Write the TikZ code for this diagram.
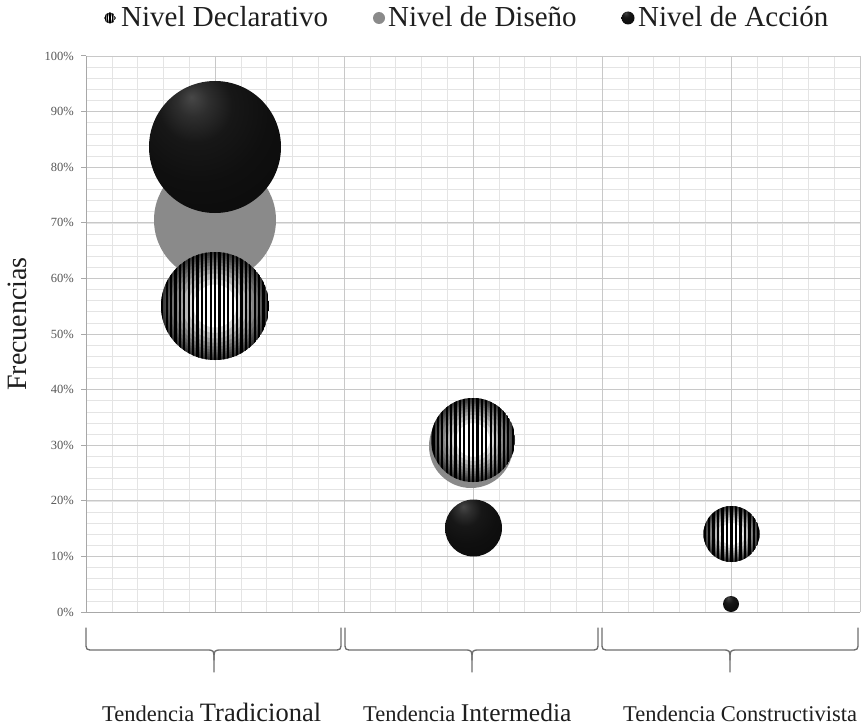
\documentclass[tikz,border=0pt]{standalone}
\usepackage{fontspec}
\setmainfont{Liberation Serif}
\usetikzlibrary{calc}
\definecolor{gridminor}{HTML}{E4E4E4}
\definecolor{gridmajor}{HTML}{C8C8C8}
\definecolor{axisgray}{HTML}{A8A8A8}
\definecolor{bracegray}{HTML}{6E6E6E}
\definecolor{designgray}{HTML}{8A8A8A}
\definecolor{labelgray}{HTML}{555555}
\definecolor{textdark}{HTML}{1E1E1E}
\pgfdeclareradialshading{darkball}{\pgfpoint{-9bp}{19bp}}{color(0bp)=(black!72); color(6bp)=(black!82); color(14bp)=(black!91); color(26bp)=(black!94); color(45bp)=(black!96); color(80bp)=(black!98)}
\newcommand\darkball[4]{%
  \coordinate (#1) at (#2,#3);
  \shade[shading=darkball] (#1) circle (#4);}
\newcommand\stripeball[6]{%
  \coordinate (#1) at (#2,#3);
  \begin{scope}
    \clip (#1) circle (#4);
    \fill[white] (#1) circle (#4);
    \foreach \k in {-20,...,20}
      \draw[black, line width=#6pt] ($(#1)+(\k*#5,-#4)$) -- ($(#1)+(\k*#5,#4)$);
    \foreach \f in {0.4,0.5,0.6,0.68,0.75,0.81,0.86,0.9,0.94,0.97}
      \fill[black, fill opacity=0.15, even odd rule] (#1) circle (#4) (#1) circle (\f*#4);
  \end{scope}}
\newcommand\catbrace[3]{%
  \draw[bracestyle] (#1,628) -- (#1,642) .. controls (#1,650) .. (#1+8,650) -- (#2-8,650) .. controls (#2,650) .. (#2,660) -- (#2,672);
  \draw[bracestyle] (#3,628) -- (#3,642) .. controls (#3,650) .. (#3-8,650) -- (#2+8,650) .. controls (#2,650) .. (#2,660);}
\tikzset{
  minorline/.style={gridminor, line width=0.6pt},
  majorline/.style={gridmajor, line width=0.9pt},
  axisline/.style={axisgray, line width=1pt},
  bracestyle/.style={bracegray, line width=1.3pt, line cap=round},
  ylab/.style={anchor=east, inner sep=0pt, text=labelgray, font=\fontsize{12.5}{14}\selectfont},
  legtext/.style={anchor=base west, inner sep=0pt, text=textdark, font=\fontsize{29}{34}\selectfont},
  catlab/.style={anchor=base west, inner sep=0pt, text=textdark, font=\fontsize{22.5}{27}\selectfont},
}
\begin{document}
\begin{tikzpicture}[x=1pt, y=-1pt]
\useasboundingbox (0,0) rectangle (863,725);
% grid
\foreach \k in {0,...,50}
  \draw[minorline] (86,612-\k*11.12) -- (860,612-\k*11.12);
\foreach \j in {0,...,30}
  \draw[minorline] (86+\j*25.8,56) -- (86+\j*25.8,612);
\foreach \k in {0,...,10}
  \draw[majorline] (86,612-\k*55.6) -- (860,612-\k*55.6);
\foreach \j in {1,...,6}
  \draw[majorline] (86+\j*129,56) -- (86+\j*129,612);
\draw[axisline] (86,56) -- (86,612);
\draw[axisline] (86,612) -- (860,612);
\foreach \k in {0,...,10}
  \draw[axisline] (81,612-\k*55.6) -- (86,612-\k*55.6);
% y labels
\node[ylab] (ylab0) at (74,612) {0\%};
\foreach \k in {1,...,10}
  \node[ylab] (ylab\k) at (74,612-\k*55.6) {\k0\%};
\node[anchor=base, rotate=90, inner sep=0pt, text=textdark, font=\fontsize{28}{32}\selectfont] (ytitle) at (27,324) {Frecuencias};
% bubbles: Tendencia Tradicional
\fill[designgray] (215,220) circle (61);
\darkball{accTrad}{215}{147}{66}
\stripeball{decTrad}{215}{306}{54}{4.4}{2.2}
% Tendencia Intermedia
\fill[designgray] (471,446) circle (42);
\stripeball{decInt}{473}{440}{42}{4.4}{2.2}
\darkball{accInt}{473.5}{528}{28.5}
% Tendencia Constructivista
\stripeball{decCons}{731.5}{534}{28}{4.5}{2.2}
\darkball{accCons}{731}{604}{8}
% legend
\stripeball{legDec}{110}{18}{5.5}{2.6}{1.4}
\node[legtext] (legDecT) at (121,27) {Nivel Declarativo};
\fill[designgray] (379,18) circle (6);
\node[legtext] (legDisT) at (388,27) {Nivel de Diseño};
\darkball{legAcc}{628}{18}{6.5}
\node[legtext] (legAccT) at (638,27) {Nivel de Acción};
% braces
\catbrace{86}{214}{341}
\catbrace{345}{472}{598}
\catbrace{602}{730}{858}
% category labels
\node[catlab] (cat1) at (102,721) {Tendencia {\fontsize{26.5}{30}\selectfont Tradicional}};
\node[catlab] (cat2) at (363,721) {Tendencia {\fontsize{25.5}{30}\selectfont Intermedia}};
\node[catlab] (cat3) at (623,721) {Tendencia Constructivista};
\end{tikzpicture}
\end{document}
